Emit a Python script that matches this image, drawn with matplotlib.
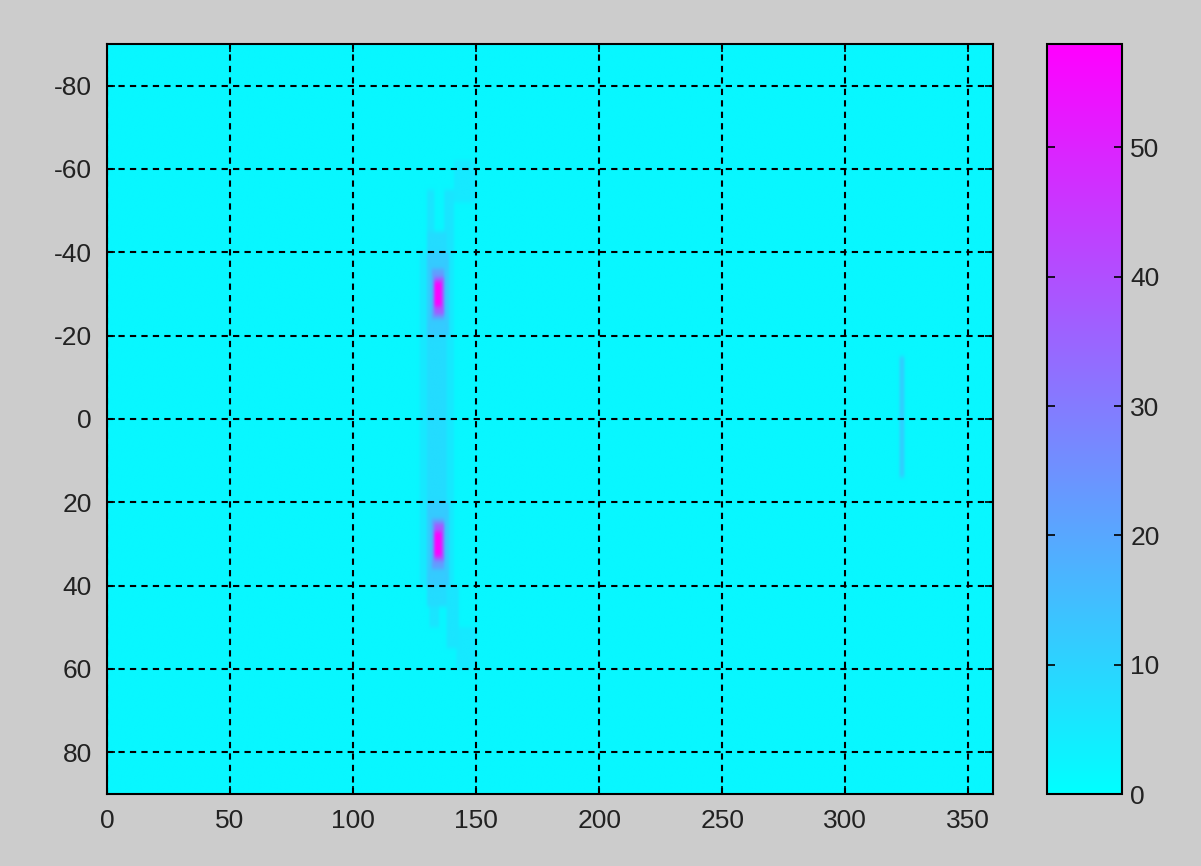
import numpy as np
import matplotlib
matplotlib.use('Agg')
import matplotlib.pyplot as plt

# grid extents (degrees)
LON_MAX = 360
LAT_MIN, LAT_MAX = -90, 90
BACKGROUND = 2.0
VMAX = 58

# bright features: lon/lat box and value
patch_lon0 = [127, 130, 130, 132, 133, 133, 130, 132, 133, 133,
              130, 137, 141, 131, 138, 142, 322]
patch_lon1 = [141, 138, 139, 137, 137, 136, 139, 137, 137, 136,
              133, 141, 150, 135, 143, 150, 324]
patch_lat0 = [-40, -45, -40, -36, -34, -33, 20, 24, 25, 27,
              -55, -55, -62, 40, 40, 50, -15]
patch_lat1 = [40, 45, -20, -24, -25, -27, 40, 36, 34, 33,
              -40, -40, -52, 50, 55, 60, 14]
patch_val = [5, 8, 12, 22, 38, 57, 12, 22, 38, 57,
             6, 6, 5, 6, 6, 5, 11]

x_ticks = [0, 50, 100, 150, 200, 250, 300, 350]
y_ticks = [-80, -60, -40, -20, 0, 20, 40, 60, 80]
cbar_ticks = [0, 10, 20, 30, 40, 50]


def build_field():
    field = np.full((LAT_MAX - LAT_MIN, LON_MAX), BACKGROUND)
    for lo0, lo1, la0, la1, v in zip(patch_lon0, patch_lon1, patch_lat0, patch_lat1, patch_val):
        r0, r1 = la0 - LAT_MIN, la1 - LAT_MIN
        block = field[r0:r1, lo0:lo1]
        np.maximum(block, v, out=block)
    return field


plt.rcParams['font.family'] = ['Liberation Sans', 'DejaVu Sans']
plt.rcParams['axes.unicode_minus'] = False
bg = '#cccccc'

fig = plt.figure(figsize=(12.01, 8.66), dpi=100, facecolor=bg)
ax = fig.add_axes([107 / 1201, 72 / 866, 886 / 1201, 750 / 866])
cax = fig.add_axes([1047 / 1201, 72 / 866, 75 / 1201, 750 / 866])

im = ax.imshow(build_field(), cmap='cool', vmin=0, vmax=VMAX, aspect='auto',
               extent=(0, LON_MAX, LAT_MAX, LAT_MIN), origin='upper',
               interpolation='bicubic')

ax.set_xticks(x_ticks)
ax.set_yticks(y_ticks)
ax.grid(True, color='black', linestyle=(0, (3, 2.5)), linewidth=1.5)
ax.tick_params(direction='in', length=6, width=1.2, top=True, right=True,
               labelsize=19, labelcolor='#222222')
ax.tick_params(axis='x', pad=11)
ax.tick_params(axis='y', pad=11)
for s in ax.spines.values():
    s.set_linewidth(1.5)

cb = fig.colorbar(im, cax=cax)
cb.set_ticks(cbar_ticks)
cb.outline.set_linewidth(1.5)
cax.tick_params(direction='in', length=6, width=1.2, left=True, right=True,
                labelsize=19, labelcolor='#222222', pad=6)

fig.savefig('out.png', dpi=100, facecolor=bg)
